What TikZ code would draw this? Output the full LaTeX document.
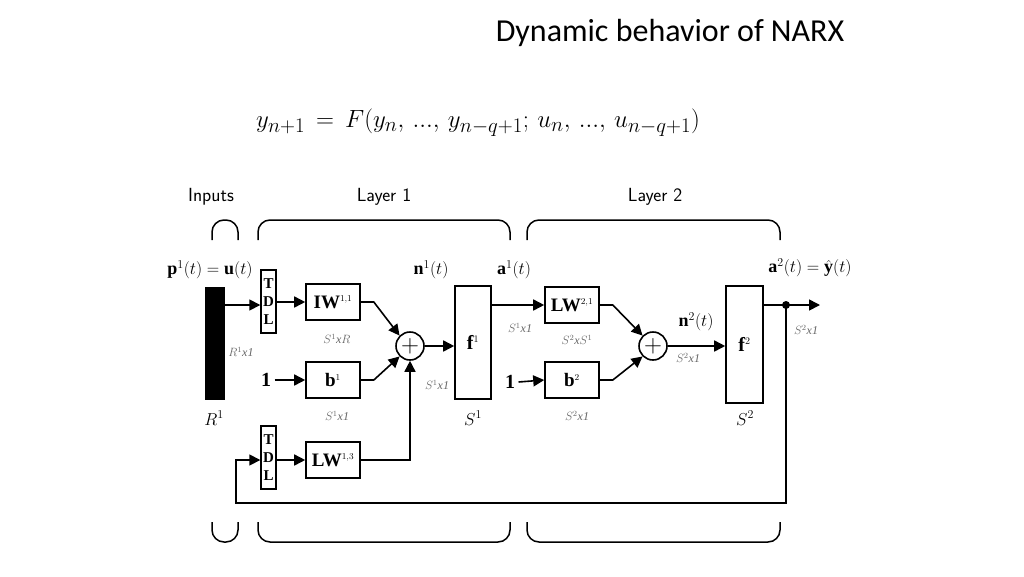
\documentclass[tikz,border=0pt]{standalone}
\usepackage{fontspec}
\setmainfont{Liberation Serif}
\newfontfamily\calfnt{Carlito}
\usetikzlibrary{arrows.meta}
\begin{document}
\begin{tikzpicture}[x=1pt,y=-1pt,
 box/.style={draw,line width=1.6pt,minimum width=54pt,minimum height=36pt,inner sep=0pt,font=\fontsize{19}{19}\selectfont\bfseries},
 tdl/.style={draw,line width=1.4pt,minimum width=15pt,minimum height=63pt,inner sep=0pt,align=center,font=\fontsize{15}{18}\selectfont\bfseries},
 fb/.style={draw,line width=1.6pt,inner sep=0pt,font=\fontsize{20}{20}\selectfont\bfseries},
 sumc/.style={draw,circle,line width=1.6pt,minimum size=28pt,inner sep=0pt,font=\fontsize{28}{28}\selectfont},
 ar/.style={line width=1.6pt,-{Triangle[length=11pt,width=11pt]}},
 dim/.style={text=gray!80!black,font=\fontsize{12}{12}\selectfont\itshape},
 lab/.style={font=\fontsize{18}{18}\selectfont},
 br/.style={line width=1.5pt,rounded corners=12pt}]
\useasboundingbox (0,0) rectangle (1024,576);
\node[font=\calfnt\fontsize{32}{32}\selectfont] (title) at (670,33) {Dynamic behavior of NARX};
\node[font=\fontsize{29}{29}\selectfont] (eq) at (478,123) {$y_{n+1}\,=\,F(y_n,\,...,\,y_{n-q+1};\,u_n,\,...,\,u_{n-q+1})$};
% headers
\node[font=\fontsize{19}{19}\selectfont\sffamily] (hin) at (211,197) {Inputs};
\node[font=\fontsize{19}{19}\selectfont\sffamily] (hl1) at (384,197) {Layer 1};
\node[font=\fontsize{19}{19}\selectfont\sffamily] (hl2) at (655,197) {Layer 2};
\foreach \a/\b in {212/238,258/510,527/780}{
 \draw[br] (\a,240) -- (\a,220) -- (\b,220) -- (\b,240);
 \draw[br] (\a,522) -- (\a,542) -- (\b,542) -- (\b,522);}
% input
\fill (205,287) rectangle (225,400);
\coordinate (barR) at (225,305);
\node[lab] (p) at (210,270) {$\mathbf{p}^{1}(t)=\mathbf{u}(t)$};
\node[lab] (R) at (214,418) {$R^{1}$};
\node[tdl] (tdl1) at (268.5,301.5) {T\\D\\L};
\node[tdl] (tdl2) at (268.5,457.5) {T\\D\\L};
\node[box] (iw) at (333,302) {IW$^{\scriptscriptstyle 1,1}$};
\node[box] (b1) at (333,380) {b$^{\scriptscriptstyle 1}$};
\node[box] (lw13) at (333,460) {LW$^{\scriptscriptstyle 1,3}$};
\node[font=\fontsize{20}{20}\selectfont\bfseries] (one1) at (266,380) {1};
\node[sumc] (s1) at (410,346) {$+$};
\node[fb,minimum width=36pt,minimum height=113pt] (f1) at (473,342.5) {f$^{\scriptscriptstyle 1}$};
\node[box] (lw21) at (572,305) {LW$^{\scriptscriptstyle 2,1}$};
\node[box] (b2) at (572,380) {b$^{\scriptscriptstyle 2}$};
\node[font=\fontsize{20}{20}\selectfont\bfseries] (one2) at (510,382) {1};
\node[sumc] (s2) at (653,346) {$+$};
\node[fb,minimum width=37pt,minimum height=117pt] (f2) at (744.5,344.5) {f$^{\scriptscriptstyle 2}$};
\coordinate (dot) at (786,305);
\coordinate (out) at (820,305);
% labels
\node[dim] at (241,352) {$R^{1}$x1};
\node[dim] at (337,339) {$S^{1}$x$R$};
\node[dim] at (337,416) {$S^{1}$x1};
\node[dim] at (437,385) {$S^{1}$x1};
\node[lab] at (473,418) {$S^{1}$};
\node[lab] at (431,270) {$\mathbf{n}^{1}(t)$};
\node[lab] at (514,270) {$\mathbf{a}^{1}(t)$};
\node[dim] at (520,328) {$S^{1}$x1};
\node[dim] at (577,340) {$S^{2}$x$S^{1}$};
\node[dim] at (577,416) {$S^{2}$x1};
\node[lab] at (696,322) {$\mathbf{n}^{2}(t)$};
\node[dim] at (688,358) {$S^{2}$x1};
\node[lab] at (745,418) {$S^{2}$};
\node[lab] at (810,268) {$\mathbf{a}^{2}(t)=\hat{\mathbf{y}}(t)$};
\node[dim] at (806,330) {$S^{2}$x1};
% connections
\draw[ar] (barR) -- (barR -| tdl1.west);
\draw[ar] (tdl1.east |- iw) -- (iw.west);
\draw[ar] (tdl2.east |- lw13) -- (lw13.west);
\draw[ar] (one1.east) -- (b1.west);
\draw[ar] (iw.east) -- ++(13,0) -- (s1.135);
\draw[ar] (b1.east) -- ++(13,0) -- (s1.225);
\draw[ar] (lw13.east) -| (s1.south);
\draw[ar] (s1.east) -- (s1 -| f1.west);
\draw[ar] (f1.east |- lw21) -- (lw21.west);
\draw[ar] (one2.east) -- (b2.west);
\draw[ar] (lw21.east) -- ++(13,0) -- (s2.135);
\draw[ar] (b2.east) -- ++(13,0) -- (s2.225);
\draw[ar] (s2.east) -- (s2 -| f2.west);
\draw[ar] (f2.east |- out) -- (out);
\fill (dot) circle (4pt);
\draw[ar] (dot) -- (786,503) -- (236,503) -- (236,460) -- (tdl2.west |- lw13);
\end{tikzpicture}
\end{document}
